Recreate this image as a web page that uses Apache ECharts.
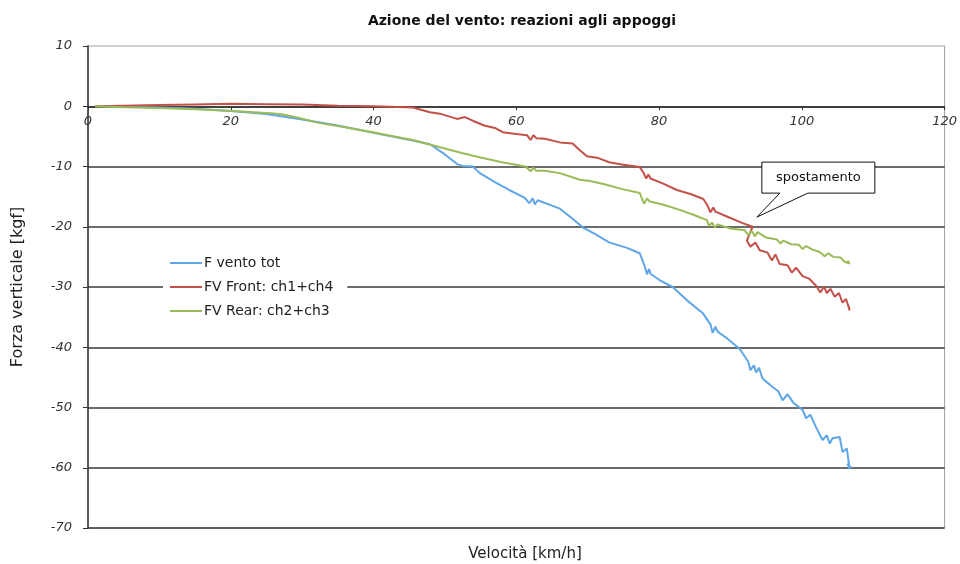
<!DOCTYPE html>
<html>
<head>
<meta charset="utf-8">
<script src="https://cdn.jsdelivr.net/npm/echarts@6/dist/echarts.min.js"></script>
<style>html,body{margin:0;padding:0;background:#fff}#c{width:960px;height:564px}</style>
</head>
<body>
<div id="c"></div>
<script>
var titleText = 'Azione del vento: reazioni agli appoggi';
var xName = 'Velocità [km/h]';
var yName = 'Forza verticale [kgf]';
var seriesNames = ['F vento tot', 'FV Front: ch1+ch4', 'FV Rear: ch2+ch3'];
var annotationText = 'spostamento';
var annotationAnchor = [93.7, -18.4];
var yMin = -70, yMax = 10, yStep = 10;
var xMin = 0, xMax = 120, xStep = 20;

var ventoTot = [[1,0],[5,-0.1],[10,-0.2],[15,-0.4],[20,-0.8],[25,-1.3],[30,-2.2],[35,-3.2],[40,-4.4],[43,-5.1],[45.5,-5.7],[47.9,-6.3],[50,-8.0],[51.7,-9.6],[52.5,-9.9],[53.9,-10.0],[54.9,-11.1],[57,-12.6],[59,-13.9],[61.2,-15.2],[61.8,-16.1],[62.3,-15.3],[62.6,-16.3],[63,-15.6],[65,-16.5],[66.1,-17.0],[67.5,-18.3],[69.3,-20.1],[71,-21.2],[73,-22.6],[75.5,-23.5],[77.3,-24.4],[78,-26.6],[78.3,-27.9],[78.6,-27.0],[78.8,-27.8],[80,-28.8],[81.9,-30.0],[84,-32.3],[86.1,-34.3],[87.2,-36.2],[87.5,-37.6],[87.9,-36.6],[88.2,-37.4],[89.5,-38.5],[91.3,-40.3],[92.5,-42.4],[92.8,-43.8],[93.3,-43.0],[93.6,-44.2],[94,-43.4],[94.5,-45.2],[95.9,-46.6],[96.7,-47.3],[97.3,-48.8],[98,-47.8],[98.8,-49.2],[100.1,-50.4],[100.6,-51.8],[101.2,-51.2],[102,-53.3],[102.9,-55.4],[103.5,-54.6],[103.9,-56.0],[104.3,-55.1],[105.3,-54.9],[105.7,-57.4],[106.3,-56.8],[106.7,-60.2],[106.4,-59.3],[106.9,-60.0]];

var fvFront = [[1,0],[5,0.1],[10,0.2],[15,0.3],[20,0.4],[25,0.35],[30,0.3],[35,0.1],[40,0],[45.5,-0.2],[47.9,-1.0],[49.5,-1.3],[51.7,-2.1],[52.8,-1.8],[53.9,-2.4],[55.5,-3.2],[57,-3.6],[58.1,-4.3],[60,-4.6],[61.5,-4.8],[62.0,-5.6],[62.4,-4.8],[62.8,-5.3],[64,-5.4],[66.1,-6.0],[67.9,-6.2],[68.9,-7.3],[69.9,-8.3],[71.5,-8.6],[73,-9.3],[75,-9.7],[77.3,-10.1],[77.8,-11.0],[78.2,-12.0],[78.5,-11.3],[78.8,-12.0],[80.5,-12.8],[82.5,-13.9],[84.5,-14.6],[86.2,-15.4],[86.7,-16.3],[87.2,-17.6],[87.6,-16.8],[87.9,-17.5],[89.5,-18.3],[91.7,-19.4],[93.1,-20.0],[92.3,-22.3],[92.8,-23.3],[93.5,-22.6],[94.1,-23.9],[95.2,-24.3],[95.8,-25.6],[96.3,-24.6],[96.9,-26.2],[98,-26.4],[98.6,-27.6],[99.2,-26.8],[100.1,-28.2],[101,-28.6],[102,-29.8],[102.6,-30.9],[103.1,-29.9],[103.5,-31.0],[104,-30.3],[104.6,-31.6],[105.2,-31.0],[105.7,-32.6],[106.2,-32.0],[106.7,-33.9],[106.5,-33.0]];

var fvRear = [[1,0],[5,-0.15],[10,-0.3],[15,-0.5],[18.9,-0.7],[22,-0.9],[25,-1.1],[26.9,-1.3],[29,-1.8],[32.5,-2.8],[36,-3.5],[39.9,-4.3],[42,-4.8],[45.5,-5.6],[48,-6.4],[50,-7.0],[52.5,-7.8],[55,-8.5],[58,-9.3],[61.3,-10.0],[62.0,-10.8],[62.4,-10.2],[62.8,-10.7],[64,-10.7],[66.1,-11.1],[68.9,-12.2],[70.3,-12.4],[72.5,-13.0],[75,-13.8],[77.3,-14.4],[77.6,-15.3],[77.9,-16.2],[78.3,-15.3],[78.7,-15.8],[80.5,-16.3],[82.9,-17.2],[84.8,-18.0],[86.7,-18.9],[87.0,-19.9],[87.4,-19.3],[87.8,-20.1],[88.2,-19.6],[90,-20.3],[92,-20.6],[92.5,-21.4],[93,-20.7],[93.4,-21.6],[93.8,-20.9],[95,-21.8],[96.5,-22.1],[97,-22.8],[97.4,-22.3],[98.5,-22.9],[99.6,-23.0],[100.1,-23.7],[100.6,-23.2],[101.5,-23.8],[102.5,-24.2],[103.2,-24.9],[103.7,-24.4],[104.4,-25.0],[105.4,-25.1],[106,-25.8],[106.7,-26.1],[106.4,-25.6]];

var colors = ['#5EA6E8', '#C4504A', '#9BBB59'];
var FONT = 'DejaVu Sans';

var chart = echarts.init(document.getElementById('c'));
function mkSeries(name, data, color) {
  return {
    name: name, type: 'line', data: data, symbol: 'none', smooth: false,
    lineStyle: { color: color, width: 2 }, itemStyle: { color: color },
    animation: false
  };
}
chart.setOption({
  animation: false,
  backgroundColor: '#fff',
  title: [
    { text: titleText, left: 517, top: 9, textAlign: 'center',
      textStyle: { fontFamily: FONT, fontSize: 14, fontWeight: 'bold', color: '#111' } },
    { text: xName, left: 520, top: 542, textAlign: 'center',
      textStyle: { fontFamily: FONT, fontSize: 15, fontWeight: 'normal', color: '#222' } }
  ],
  legend: {
    orient: 'vertical', left: 163, top: 252,
    padding: [4, 14, 4, 7], itemGap: 10, itemWidth: 32, itemHeight: 2,
    icon: 'rect',
    backgroundColor: '#fff',
    textStyle: { fontFamily: FONT, fontSize: 14, color: '#222', padding: [0,0,0,-3] },
    data: seriesNames
  },
  grid: { left: 88, right: 14, top: 46, bottom: 36, containLabel: false,
          show: true, borderColor: '#a0a0a0', borderWidth: 1, backgroundColor: 'transparent' },
  xAxis: {
    type: 'value', min: xMin, max: xMax, interval: xStep, position: 'bottom',
    axisLine: { show: true, onZero: false, lineStyle: { color: '#333', width: 1.5 } },
    axisTick: { show: true, length: 4, lineStyle: { color: '#333' } },
    axisLabel: { margin: 9, fontFamily: FONT, fontSize: 13, fontStyle: 'italic', color: '#333' },
    splitLine: { show: false }
  },
  yAxis: {
    type: 'value', min: yMin, max: yMax, interval: yStep,
    axisLine: { show: true, lineStyle: { color: '#333', width: 1.5 } },
    axisTick: { show: true, length: 5, lineStyle: { color: '#333' } },
    axisLabel: { margin: 16, fontFamily: FONT, fontSize: 13, fontStyle: 'italic', color: '#333' },
    splitLine: { show: true, lineStyle: { width: 1.5,
      color: ['#3a3a3a','#3a3a3a','#3a3a3a','#3a3a3a','#3a3a3a','#3a3a3a','#3a3a3a','#3a3a3a','rgba(0,0,0,0)'] } },
    name: yName, nameLocation: 'middle', nameGap: 62, nameRotate: 90,
    nameTextStyle: { fontFamily: FONT, fontSize: 16, color: '#222', padding: [0, 0, 0, 0] }
  },
  series: [
    mkSeries(seriesNames[0], ventoTot, colors[0]),
    mkSeries(seriesNames[1], fvFront, colors[1]),
    mkSeries(seriesNames[2], fvRear, colors[2])
  ]
});

// put the x axis on y = 0 (as in the reference)
var yZeroPx = chart.convertToPixel({ yAxisIndex: 0 }, 0);
var yBottomPx = chart.convertToPixel({ yAxisIndex: 0 }, yMin);
var tip = chart.convertToPixel({ xAxisIndex: 0, yAxisIndex: 0 }, annotationAnchor);
chart.setOption({
  xAxis: { offset: yZeroPx - yBottomPx },
  graphic: [{
    type: 'group', x: tip[0], y: tip[1], z: 100,
    children: [
      { type: 'polygon',
        shape: { points: [[5,-24],[23,-24],[0,0],[51,-24],[118,-24],[118,-55],[5,-55]] },
        style: { fill: '#fff', stroke: '#111', lineWidth: 1 } },
      { type: 'text', x: 61.5, y: -39.5,
        style: { text: annotationText, fontFamily: FONT, fontSize: 13, fill: '#111',
                 align: 'center', verticalAlign: 'middle' } }
    ]
  }]
});
</script>
</body>
</html>
